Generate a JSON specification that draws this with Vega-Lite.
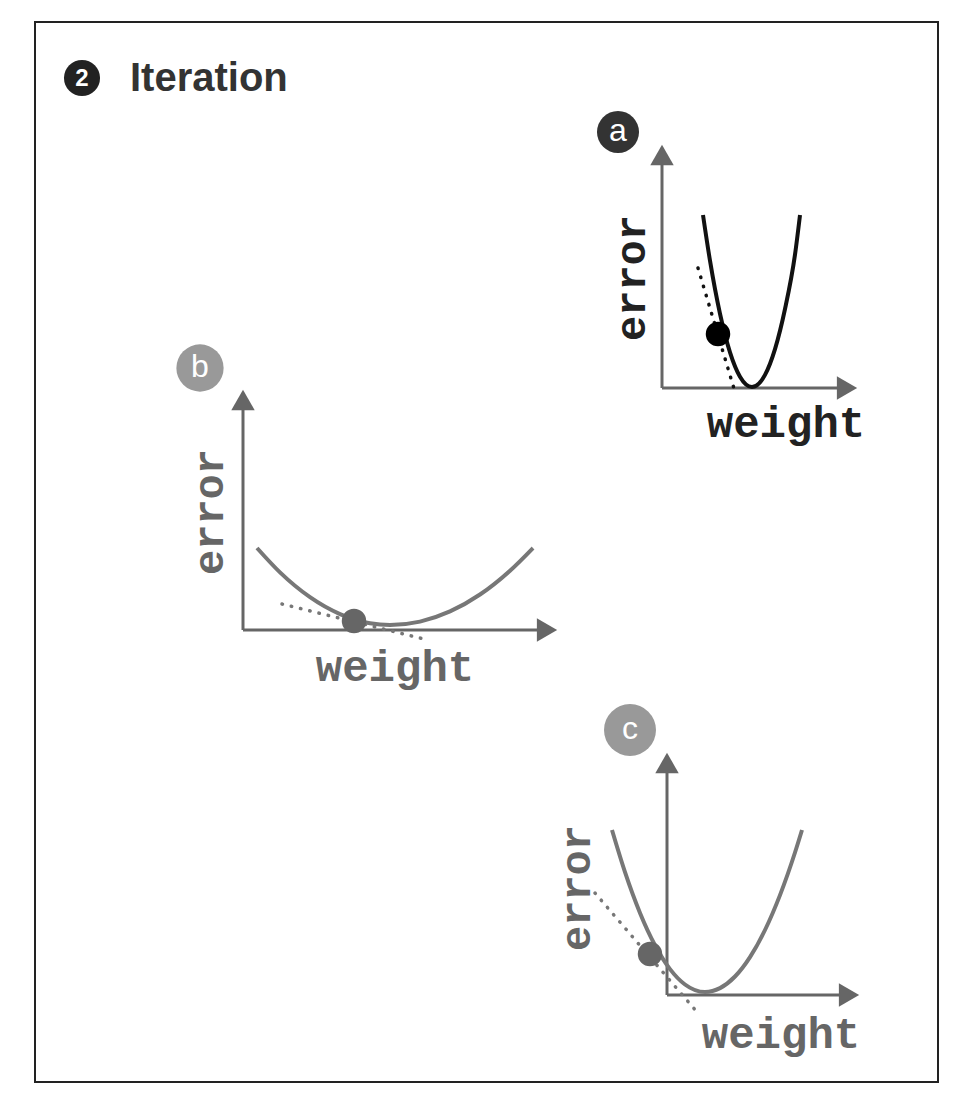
{
  "$schema": "https://vega.github.io/schema/vega-lite/v6.json",
  "width": 966,
  "height": 1096,
  "autosize": {"type": "fit", "contains": "padding"},
  "padding": 0,
  "background": "white",
  "config": {"view": {"stroke": null}},
  "encoding": {
    "x": {"type": "quantitative", "scale": {"domain": [0, 966], "nice": false, "zero": false}, "axis": null},
    "y": {"type": "quantitative", "scale": {"domain": [0, 1096], "nice": false, "zero": false, "reverse": true}, "axis": null}
  },
  "layer": [
    {
      "data": {"values": [{"x": 35, "y": 22, "x2": 938, "y2": 1082}]},
      "mark": {"type": "rect", "fill": null, "stroke": "#222", "strokeWidth": 2},
      "encoding": {"x": {"field": "x"}, "y": {"field": "y"}, "x2": {"field": "x2"}, "y2": {"field": "y2"}}
    },
    {
      "data": {"values": [
        {"panel": "a", "x": 662, "y": 388, "x2": 662, "y2": 160},
        {"panel": "a", "x": 662, "y": 388, "x2": 842, "y2": 388},
        {"panel": "b", "x": 243, "y": 630, "x2": 243, "y2": 405},
        {"panel": "b", "x": 243, "y": 630, "x2": 542, "y2": 630},
        {"panel": "c", "x": 667, "y": 995, "x2": 667, "y2": 768},
        {"panel": "c", "x": 667, "y": 995, "x2": 844, "y2": 995}
      ]},
      "mark": {"type": "rule", "stroke": "#666", "strokeWidth": 3},
      "encoding": {"x": {"field": "x"}, "y": {"field": "y"}, "x2": {"field": "x2"}, "y2": {"field": "y2"}}
    },
    {
      "data": {"values": [
        {"panel": "a", "x": 662, "y": 155},
        {"panel": "b", "x": 243, "y": 400},
        {"panel": "c", "x": 667, "y": 763}
      ]},
      "mark": {"type": "point", "shape": "triangle-up", "filled": true, "color": "#666", "opacity": 1, "size": 550},
      "encoding": {"x": {"field": "x"}, "y": {"field": "y"}}
    },
    {
      "data": {"values": [
        {"panel": "a", "x": 847, "y": 388},
        {"panel": "b", "x": 547, "y": 630},
        {"panel": "c", "x": 849, "y": 995}
      ]},
      "mark": {"type": "point", "shape": "triangle-right", "filled": true, "color": "#666", "opacity": 1, "size": 550},
      "encoding": {"x": {"field": "x"}, "y": {"field": "y"}}
    },
    {
      "data": {"values": [
        {"panel": "a", "x": 698, "y": 268, "x2": 735, "y2": 392},
        {"panel": "b", "x": 282, "y": 604, "x2": 428, "y2": 640},
        {"panel": "c", "x": 595, "y": 893, "x2": 697, "y2": 1012}
      ]},
      "mark": {"type": "rule", "strokeWidth": 3.5, "strokeDash": [0.5, 9], "strokeCap": "round"},
      "encoding": {
        "x": {"field": "x"}, "y": {"field": "y"}, "x2": {"field": "x2"}, "y2": {"field": "y2"},
        "color": {"field": "panel", "type": "nominal", "scale": {"domain": ["a", "b", "c"], "range": ["#111", "#777", "#777"]}, "legend": null}
      }
    },
    {
      "data": {"values": [
        {"panel": "a", "x": 703, "y": 215}, {"panel": "a", "x": 710, "y": 260.7}, {"panel": "a", "x": 720, "y": 313.7},
        {"panel": "a", "x": 730, "y": 352.3}, {"panel": "a", "x": 740, "y": 376.7}, {"panel": "a", "x": 752, "y": 387},
        {"panel": "a", "x": 765, "y": 374.9}, {"panel": "a", "x": 775, "y": 349.1}, {"panel": "a", "x": 785, "y": 309},
        {"panel": "a", "x": 795, "y": 254.6}, {"panel": "a", "x": 800, "y": 215},
        {"panel": "b", "x": 257, "y": 548}, {"panel": "b", "x": 280, "y": 572.4}, {"panel": "b", "x": 310, "y": 597.2},
        {"panel": "b", "x": 340, "y": 614.1}, {"panel": "b", "x": 370, "y": 623.3}, {"panel": "b", "x": 390, "y": 625},
        {"panel": "b", "x": 420, "y": 621.6}, {"panel": "b", "x": 450, "y": 611.4}, {"panel": "b", "x": 480, "y": 594.5},
        {"panel": "b", "x": 510, "y": 570.7}, {"panel": "b", "x": 533, "y": 548},
        {"panel": "c", "x": 612, "y": 830}, {"panel": "c", "x": 625, "y": 872.1}, {"panel": "c", "x": 640, "y": 912.9},
        {"panel": "c", "x": 655, "y": 945.2}, {"panel": "c", "x": 670, "y": 969.1}, {"panel": "c", "x": 685, "y": 984.5},
        {"panel": "c", "x": 705, "y": 992}, {"panel": "c", "x": 720, "y": 988.1}, {"panel": "c", "x": 735, "y": 976.5},
        {"panel": "c", "x": 750, "y": 957.1}, {"panel": "c", "x": 765, "y": 930}, {"panel": "c", "x": 780, "y": 895.1},
        {"panel": "c", "x": 795, "y": 852.5}, {"panel": "c", "x": 802, "y": 830}
      ]},
      "mark": {"type": "line", "interpolate": "monotone", "strokeWidth": 4},
      "encoding": {
        "x": {"field": "x"}, "y": {"field": "y"},
        "detail": {"field": "panel"},
        "color": {"field": "panel", "type": "nominal", "scale": {"domain": ["a", "b", "c"], "range": ["#111", "#777", "#777"]}, "legend": null}
      }
    },
    {
      "data": {"values": [
        {"panel": "a", "x": 718, "y": 334},
        {"panel": "b", "x": 354, "y": 621},
        {"panel": "c", "x": 650, "y": 954}
      ]},
      "mark": {"type": "circle", "size": 600, "opacity": 1},
      "encoding": {
        "x": {"field": "x"}, "y": {"field": "y"},
        "color": {"field": "panel", "type": "nominal", "scale": {"domain": ["a", "b", "c"], "range": ["#000", "#666", "#666"]}, "legend": null}
      }
    },
    {
      "data": {"values": [
        {"panel": "t", "label": "2", "x": 82, "y": 78},
        {"panel": "a", "label": "a", "x": 618, "y": 132},
        {"panel": "b", "label": "b", "x": 200, "y": 368},
        {"panel": "c", "label": "c", "x": 630, "y": 730}
      ]},
      "mark": {"type": "circle", "opacity": 1},
      "encoding": {
        "x": {"field": "x"}, "y": {"field": "y"},
        "size": {"field": "panel", "type": "nominal", "scale": {"domain": ["t", "a", "b", "c"], "range": [1300, 2700, 2700, 2700]}, "legend": null},
        "color": {"field": "panel", "type": "nominal", "scale": {"domain": ["t", "a", "b", "c"], "range": ["#222", "#333", "#999", "#999"]}, "legend": null}
      }
    },
    {
      "data": {"values": [
        {"label": "a", "x": 618, "y": 132},
        {"label": "b", "x": 200, "y": 368},
        {"label": "c", "x": 630, "y": 730}
      ]},
      "mark": {"type": "text", "font": "Liberation Sans", "fontSize": 32, "color": "white", "align": "center", "baseline": "middle", "dy": -1},
      "encoding": {"x": {"field": "x"}, "y": {"field": "y"}, "text": {"field": "label"}}
    },
    {
      "data": {"values": [{"label": "2", "x": 82, "y": 79}]},
      "mark": {"type": "text", "font": "Liberation Sans", "fontWeight": "bold", "fontSize": 24, "color": "white", "align": "center", "baseline": "middle"},
      "encoding": {"x": {"field": "x"}, "y": {"field": "y"}, "text": {"field": "label"}}
    },
    {
      "data": {"values": [{"label": "Iteration", "x": 130, "y": 79}]},
      "mark": {"type": "text", "font": "Liberation Sans", "fontWeight": "bold", "fontSize": 40, "color": "#333", "align": "left", "baseline": "middle"},
      "encoding": {"x": {"field": "x"}, "y": {"field": "y"}, "text": {"field": "label"}}
    },
    {
      "data": {"values": [
        {"panel": "a", "label": "weight", "x": 786, "y": 424},
        {"panel": "b", "label": "weight", "x": 395, "y": 668},
        {"panel": "c", "label": "weight", "x": 781, "y": 1035}
      ]},
      "mark": {"type": "text", "font": "Liberation Mono", "fontWeight": "bold", "fontSize": 44, "align": "center", "baseline": "middle"},
      "encoding": {
        "x": {"field": "x"}, "y": {"field": "y"}, "text": {"field": "label"},
        "color": {"field": "panel", "type": "nominal", "scale": {"domain": ["a", "b", "c"], "range": ["#222", "#666", "#666"]}, "legend": null}
      }
    },
    {
      "data": {"values": [
        {"panel": "a", "label": "error", "x": 632, "y": 278},
        {"panel": "b", "label": "error", "x": 210, "y": 512},
        {"panel": "c", "label": "error", "x": 577, "y": 888}
      ]},
      "mark": {"type": "text", "font": "Liberation Mono", "fontWeight": "bold", "fontSize": 42, "angle": 270, "align": "center", "baseline": "middle"},
      "encoding": {
        "x": {"field": "x"}, "y": {"field": "y"}, "text": {"field": "label"},
        "color": {"field": "panel", "type": "nominal", "scale": {"domain": ["a", "b", "c"], "range": ["#222", "#666", "#666"]}, "legend": null}
      }
    }
  ],
  "resolve": {"scale": {"color": "independent", "size": "independent"}}
}
